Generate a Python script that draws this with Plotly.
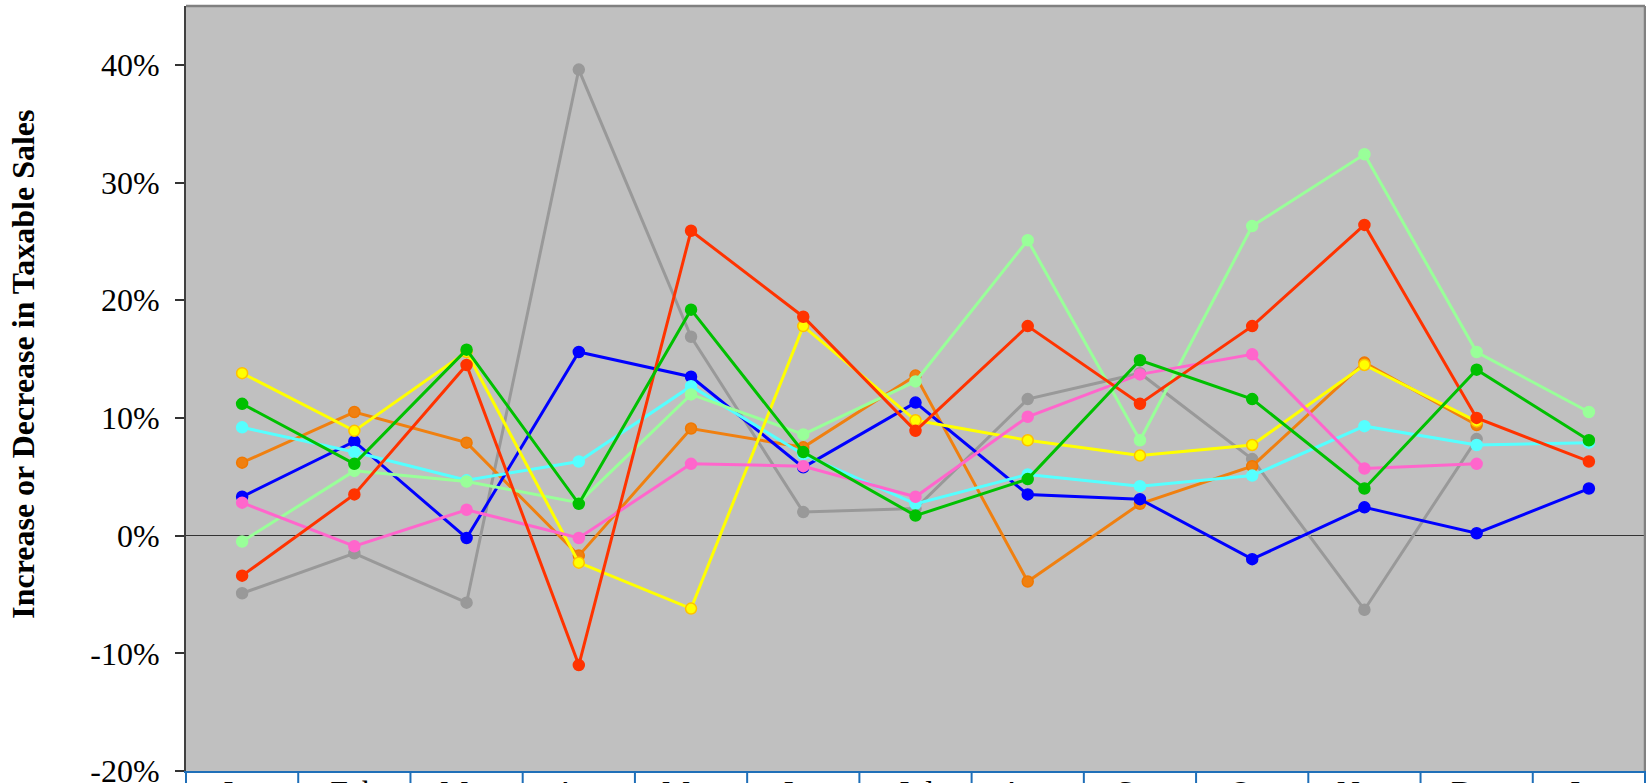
import plotly.graph_objects as go

months = ["Jan", "Feb", "Mar", "Apr", "May", "Jun", "Jul", "Aug", "Sep", "Oct", "Nov", "Dec", "Jan "]

blue_vals = [3.3, 8.0, -0.2, 15.6, 13.5, 5.8, 11.3, 3.5, 3.1, -2.0, 2.4, 0.2, 4.0]
orange_vals = [6.2, 10.5, 7.9, -1.7, 9.1, 7.5, 13.6, -3.9, 2.7, 5.9, 14.7, 9.4, None]
gray_vals = [-4.9, -1.5, -5.7, 39.6, 16.9, 2.0, 2.3, 11.6, 13.8, 6.5, -6.3, 8.2, None]
yellow_vals = [13.8, 8.9, 15.6, -2.3, -6.2, 17.8, 9.8, 8.1, 6.8, 7.7, 14.5, 9.7, None]
cyan_vals = [9.2, 7.1, 4.7, 6.3, 12.7, 6.9, 2.7, 5.2, 4.2, 5.1, 9.3, 7.7, 7.9]
lightgreen_vals = [-0.5, 5.5, 4.6, 2.8, 12.0, 8.6, 13.1, 25.1, 8.1, 26.3, 32.4, 15.6, 10.5]
pink_vals = [2.8, -0.9, 2.2, -0.2, 6.1, 5.9, 3.3, 10.1, 13.7, 15.4, 5.7, 6.1, None]
red_vals = [-3.4, 3.5, 14.5, -11.0, 25.9, 18.6, 8.9, 17.8, 11.2, 17.8, 26.4, 10.0, 6.3]
green_vals = [11.2, 6.1, 15.8, 2.7, 19.2, 7.1, 1.7, 4.8, 14.9, 11.6, 4.0, 14.1, 8.1]

series = [
    ("Series A", gray_vals, "#999999", "#999999"),
    ("Series B", orange_vals, "#F08010", "#F07800"),
    ("Series C", blue_vals, "#0000FF", "#0000FF"),
    ("Series D", cyan_vals, "#55FFFF", "#55FFFF"),
    ("Series E", lightgreen_vals, "#99FF99", "#99FF99"),
    ("Series F", yellow_vals, "#FFFF00", "#FFC000"),
    ("Series G", pink_vals, "#FF66CC", "#FF66CC"),
    ("Series H", red_vals, "#FF3300", "#FF3300"),
    ("Series I", green_vals, "#00C000", "#00C000"),
]

fig = go.Figure()
for name, vals, col, edge in series:
    fig.add_trace(go.Scatter(
        x=list(range(len(months))), y=vals, name=name, mode="lines+markers",
        line=dict(color=col, width=3),
        marker=dict(color=col, size=11, line=dict(color=edge, width=1.5)),
        connectgaps=False,
    ))

serif = "Liberation Serif, Times New Roman, serif"

fig.update_layout(
    width=1646, height=783,
    margin=dict(l=186, r=1, t=6, b=12),
    paper_bgcolor="white",
    plot_bgcolor="#C0C0C0",
    showlegend=False,
    font=dict(family=serif, color="black"),
    xaxis=dict(
        range=[-0.5, len(months) - 0.5],
        tickmode="array",
        tickvals=list(range(len(months))),
        ticktext=[m.strip() for m in months],
        showgrid=False, zeroline=False,
        ticks="",
        showline=True, linecolor="#1F6FB8", linewidth=2,
        tickfont=dict(family=serif, size=32, color="black"),
        automargin=False,
        ticklabelstandoff=-8,
        ticklabeloverflow="allow",
    ),
    yaxis=dict(
        range=[-20, 45],
        tickvals=[-20, -10, 0, 10, 20, 30, 40],
        ticktext=["-20%", "-10%", "0%", "10%", "20%", "30%", "40%"],
        showgrid=False,
        zeroline=True, zerolinecolor="#333333", zerolinewidth=1,
        ticks="outside", ticklen=9, tickcolor="#333333", tickwidth=1.5,
        showline=True, linecolor="#404040", linewidth=2,
        tickfont=dict(family=serif, size=32, color="black"),
        automargin=False,
        ticklabelstandoff=9,
        ticklabeloverflow="allow",
    ),
    annotations=[dict(
        text="<b>Increase or Decrease in Taxable Sales</b>",
        xref="paper", yref="paper", x=-0.1117, y=0.531,
        xanchor="center", yanchor="middle", textangle=-90, showarrow=False,
        font=dict(family=serif, size=32, color="black"),
    )],
)

shapes = [
    dict(type="line", xref="paper", yref="paper", x0=0, x1=1, y0=1, y1=1,
         line=dict(color="#808080", width=2.5)),
    dict(type="line", xref="paper", yref="paper", x0=1, x1=1, y0=0, y1=1,
         line=dict(color="#808080", width=2.5)),
]
n = len(months)
for i in range(n + 1):
    shapes.append(dict(type="line", xref="paper", yref="paper",
                       x0=i / n, x1=i / n, y0=0, y1=-0.03,
                       line=dict(color="#1F6FB8", width=2)))
fig.update_layout(shapes=shapes)

fig.write_html("out.html",
               config={"displayModeBar": False},
               post_script="document.body.style.margin='0';document.body.style.overflow='hidden';")
